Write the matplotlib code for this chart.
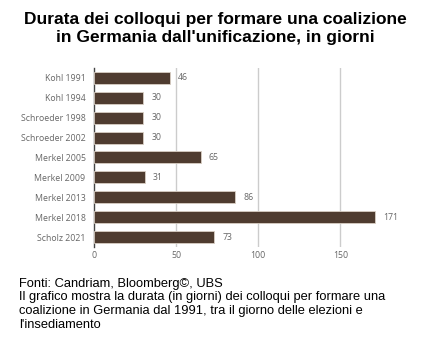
import matplotlib.pyplot as plt

governi = ["Kohl 1991", "Kohl 1994", "Schroeder 1998", "Schroeder 2002",
           "Merkel 2005", "Merkel 2009", "Merkel 2013", "Merkel 2018", "Scholz 2021"]
giorni = [46, 30, 30, 30, 65, 31, 86, 171, 73]
tick_x = [0, 50, 100, 150]

fig = plt.figure(figsize=(4.31, 3.43), dpi=100)
ax = fig.add_axes([0.218, 0.280, 0.724, 0.522])

grigio = "#666666"
pos = list(range(len(governi)))
ax.barh(pos, giorni, height=0.6, color="#4f3c30", edgecolor="#d9cfc4", linewidth=0.6, zorder=3)
for p, v in zip(pos, giorni):
    ax.text(v + 5, p, str(v), va="center", ha="left", fontsize=6.3,
            color=grigio, family="Open Sans")

ax.set_yticks(pos)
ax.set_yticklabels(governi, fontsize=6.3, color=grigio, family="Open Sans")
ax.set_xticks(tick_x)
ax.set_xticklabels([str(t) for t in tick_x], fontsize=6.3, color=grigio, family="Open Sans")
ax.set_xlim(0, 190)
ax.set_ylim(8.5, -0.5)
ax.tick_params(axis="y", length=0, pad=6)
ax.tick_params(axis="x", length=0, pad=3)

# griglia verticale
for t in tick_x[1:]:
    ax.axvline(t, color="#cccccc", linewidth=1, zorder=1)

for s in ["top", "right", "bottom"]:
    ax.spines[s].set_visible(False)
ax.spines["left"].set_color("#444444")
ax.spines["left"].set_linewidth(1)

fig.text(0.5, 0.965, "Durata dei colloqui per formare una coalizione\nin Germania dall'unificazione, in giorni",
         ha="center", va="top", fontsize=12.5, fontweight="bold", family="Liberation Sans",
         linespacing=1.25)

fig.text(0.044, 0.19, "Fonti: Candriam, Bloomberg©, UBS\n"
         "Il grafico mostra la durata (in giorni) dei colloqui per formare una\n"
         "coalizione in Germania dal 1991, tra il giorno delle elezioni e\n"
         "l'insediamento",
         ha="left", va="top", fontsize=9.3, family="Liberation Sans", linespacing=1.18)

fig.savefig("out.png", dpi=100)
